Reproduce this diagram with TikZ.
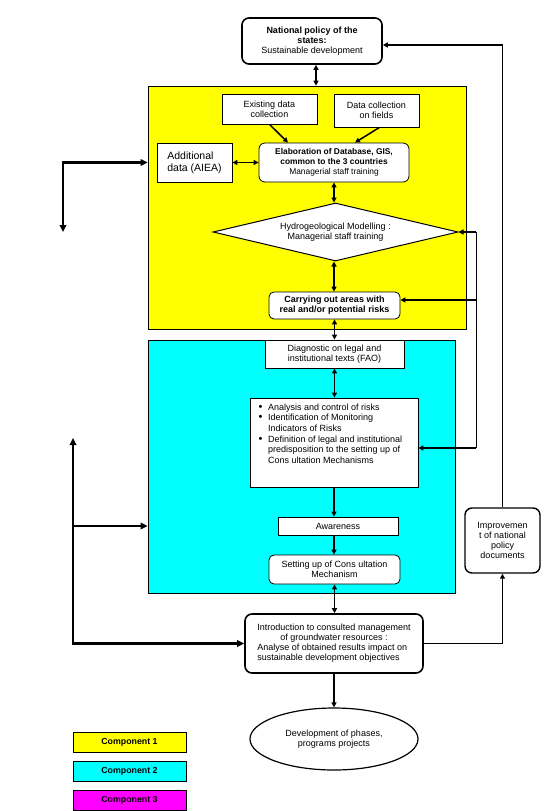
\documentclass[tikz,border=0pt]{standalone}
\usepackage{fontspec}
\setmainfont{Liberation Sans}
\usetikzlibrary{shapes.geometric,arrows.meta}
\definecolor{compyellow}{RGB}{255,255,0}
\definecolor{compcyan}{RGB}{0,255,255}
\definecolor{compmagenta}{RGB}{255,0,255}
\newcommand\bitem[1]{\par\noindent\hangindent=13pt\hangafter=1\makebox[13pt][l]{\hspace{3.5pt}{\fontsize{11}{10}\selectfont\textbullet}}#1}
\begin{document}
\begin{tikzpicture}[x=1pt,y=-1pt,
  every node/.style={font=\fontsize{9}{10}\selectfont, align=center, inner sep=1pt},
  region/.style={draw, line width=0.7pt, inner sep=0pt},
  box/.style={draw, fill=white, line width=0.8pt, inner sep=1pt},
  rbox/.style={box, rounded corners=6pt},
  tbox/.style={draw, fill=white, line width=1.6pt, rounded corners=7pt, inner sep=1pt},
  legendbox/.style={draw, line width=0.9pt, minimum width=113pt, minimum height=20pt, font=\fontsize{8.8}{10}\selectfont\bfseries},
  tip/.tip={Triangle[length=5pt,width=5pt]},
  bigtip/.tip={Triangle[length=7pt,width=6.5pt]},
  arr/.style={line width=1.5pt, -tip},
  darr/.style={line width=1.5pt, tip-tip},
  larr/.style={line width=2.4pt, -bigtip},
  ldarr/.style={line width=2.4pt, bigtip-bigtip},
  thinline/.style={line width=0.8pt}
]
\useasboundingbox (0,0) rectangle (553,811);

% component regions
\node[region, fill=compyellow, minimum width=318pt, minimum height=243pt] (yel) at (307,207.5) {};
\node[region, fill=compcyan, minimum width=307pt, minimum height=253pt] (cya) at (301.5,466.5) {};

% top
\node[tbox, minimum width=140pt, minimum height=46pt] (nat) at (312,41)
  {\textbf{National policy of the}\\\textbf{states:}\\Sustainable development};

% component 1
\node[box, minimum width=95pt, minimum height=30pt] (exist) at (269.5,109) {Existing data\\collection};
\node[box, minimum width=85pt, minimum height=33pt] (fields) at (376.5,110.5) {Data collection\\on fields};
\node[rbox, minimum width=150pt, minimum height=39pt, font=\fontsize{8.4}{9.8}\selectfont] (elab) at (334,162.5)
  {\textbf{Elaboration of Database, GIS,}\\\textbf{common to the 3 countries}\\Managerial staff training};
\node[box, minimum width=75pt, minimum height=39pt, align=left, font=\fontsize{10.5}{12}\selectfont] (addl) at (194.5,162.5)
  {Additional\\data (AIEA)};
\node[diamond, draw, fill=white, line width=1pt, aspect=4.2, minimum width=245pt, minimum height=58pt, inner sep=0pt] (dia) at (335.5,232)
  {Hydrogeological Modelling :\\Managerial staff training};
\node[rbox, rounded corners=5pt, minimum width=131pt, minimum height=27pt] (carry) at (334.5,305.5)
  {\textbf{Carrying out areas with}\\\textbf{real and/or potential risks}};

% component 2
\node[box, minimum width=139pt, minimum height=28pt] (diag) at (334.5,354) {Diagnostic on legal and\\institutional texts (FAO)};
\node[box, minimum width=168pt, minimum height=89pt, inner sep=0pt] (bul) at (334,442.5)
  {\begin{minipage}[t][85pt][t]{158pt}\fontsize{9}{10.7}\selectfont\raggedright\vspace*{3.5pt}%
   \bitem{Analysis and control of risks}
   \bitem{Identification of Monitoring\newline Indicators of Risks}
   \bitem{Definition of legal and institutional\newline predisposition to the setting up of\newline Cons ultation Mechanisms}\par
   \end{minipage}};
\node[box, minimum width=120pt, minimum height=18pt] (aware) at (338,526) {Awareness};
\node[rbox, rounded corners=5pt, minimum width=131pt, minimum height=29pt] (setting) at (334.5,569.5)
  {Setting up of Cons ultation\\Mechanism};

% bottom
\node[tbox, minimum width=178pt, minimum height=59pt] (intro) at (334,643.5)
  {\begin{tabular}{@{}l@{}}Introduction to consulted management\\
   \multicolumn{1}{@{}c@{}}{of groundwater resources :}\\
   Analyse of obtained results impact on\\
   sustainable development objectives\end{tabular}};
\node[tbox, line width=1.4pt, minimum width=75pt, minimum height=65pt] (imp) at (502.5,540.5)
  {Improvemen\\t of national\\policy\\documents};
\node[ellipse, draw, fill=white, line width=1.2pt, minimum width=168pt, minimum height=62pt, inner sep=0pt] (ell) at (334,739)
  {Development of phases,\\programs projects};

% legend
\node[legendbox, fill=compyellow] (c1) at (129.5,742) {Component 1};
\node[legendbox, fill=compcyan] (c2) at (129.5,771) {Component 2};
\node[legendbox, fill=compmagenta] (c3) at (129.5,800) {Component 3};

% coordinates
\coordinate (natb) at ([xshift=4pt]nat.south);
\coordinate (lu) at (63,232);
\coordinate (ll) at (73,438);
\coordinate (lb) at (73,526);
\coordinate (tr) at (502.5,45);
\coordinate (r1) at (476,232);
\coordinate (r2) at (476,300);
\coordinate (r3) at (476,448);

% connectors
\draw[darr] (natb) -- (natb |- yel.north);
\draw[arr] (exist.south) -- ([xshift=-46pt]elab.north);
\draw[arr] ([xshift=3pt]fields.south) -- ([xshift=21pt]elab.north);
\draw[darr] (addl) -- (elab);
\draw[darr] (elab.south) -- (elab.south |- dia.north);
\draw[darr] (elab.south |- dia.south) -- (elab.south |- carry.north);
\draw[darr] (carry.south) -- (carry.south |- diag.north);
\draw[darr] (diag.south) -- (diag.south |- bul.north);
\draw[arr] (bul.south) -- (bul.south |- aware.north);
\draw[arr] (bul.south |- aware.south) -- (bul.south |- setting.north);
\draw[darr] (setting.south) -- (setting.south |- intro.north);
\draw[arr] (intro.south) -- (ell.north);

\draw[ldarr] (yel.west |- addl) -| (lu);
\draw[ldarr] (intro.west) -| (ll);
\draw[larr, line width=2pt] (lb) -- (lb -| cya.west);

\draw[arr] (intro.east) -| (imp.south);
\draw[thinline] (imp.north) -- (tr);
\draw[arr] (tr) -- (tr -| nat.east);

\draw[thinline] (r1) -- (r3);
\draw[arr] (r1) -- (dia.east);
\draw[arr] (r2) -- (r2 -| carry.east);
\draw[arr] (r3) -- (r3 -| bul.east);
\end{tikzpicture}
\end{document}
